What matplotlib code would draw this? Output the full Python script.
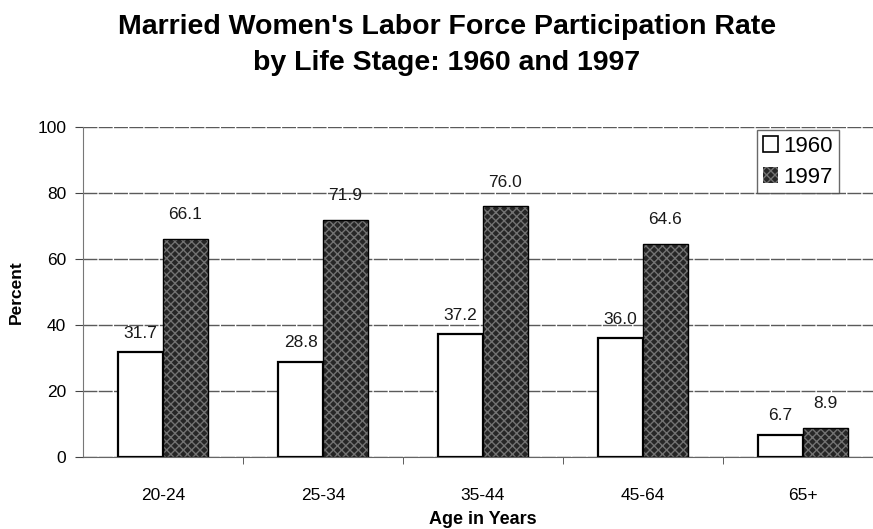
import numpy as np
import matplotlib.pyplot as plt
from matplotlib.patches import Patch

plt.rcParams['font.family'] = ['Liberation Sans', 'DejaVu Sans']

# data
groups = ["20-24", "25-34", "35-44", "45-64", "65+"]
rate_1960 = [31.7, 28.8, 37.2, 36.0, 6.7]
rate_1997 = [66.1, 71.9, 76.0, 64.6, 8.9]

fig = plt.figure(figsize=(8.73, 5.29), dpi=100)
ax = fig.add_axes([83 / 873, 72 / 529, 800 / 873, 330 / 529])

x = np.arange(len(groups))
w = 0.28

# 1960 bars: white
ax.bar(x - w / 2, rate_1960, w, color="white", edgecolor="black", linewidth=1.6, zorder=3)
# 1997 bars: dark with dotted texture
ax.bar(x + w / 2, rate_1997, w, color="#262626", edgecolor="#727272", hatch="xxxx",
       linewidth=0, zorder=3)
ax.bar(x + w / 2, rate_1997, w, fill=False, edgecolor="black", linewidth=1.0, zorder=4)

for xi, v in zip(x, rate_1960):
    ax.text(xi - w / 2, v + 3.5, f"{v:.1f}", ha="center", va="bottom", fontsize=12.5, color="#1a1a1a")
for xi, v in zip(x, rate_1997):
    ax.text(xi + w / 2, v + 5, f"{v:.1f}", ha="center", va="bottom", fontsize=12.5, color="#1a1a1a")

ax.set_xlim(-0.5, 4.5)
ax.set_ylim(0, 100)
ax.set_yticks([0, 20, 40, 60, 80, 100])
ax.set_xticks(x)
ax.set_xticklabels(groups, fontsize=12.5)
ax.set_xticks(np.arange(0.5, 4.5, 1), minor=True)
ax.tick_params(axis="x", which="major", length=0, pad=22)
ax.tick_params(axis="x", which="minor", length=5, color="#444444")
ax.tick_params(axis="y", length=6, color="#444444", labelsize=12.5, pad=6)

ax.grid(axis="y", color="#5a5a5a", linewidth=1.0, linestyle=(0, (10, 1)), zorder=0)
for s in ["top", "right"]:
    ax.spines[s].set_visible(False)
ax.spines["left"].set_color("#777777")
ax.spines["bottom"].set_color("#666666")

ax.set_ylabel("Percent", fontsize=12.5, fontweight="bold", labelpad=10)
ax.set_xlabel("Age in Years", fontsize=13, fontweight="bold", labelpad=6)

fig.text(447 / 873, 1 - 45 / 529,
         "Married Women's Labor Force Participation Rate\nby Life Stage: 1960 and 1997",
         ha="center", va="center", fontsize=20.5, fontweight="bold", linespacing=1.5)

handles = [Patch(facecolor="white", edgecolor="black", linewidth=1.2),
           Patch(facecolor="#262626", edgecolor="#727272", hatch="xxxx", linewidth=0)]
leg = fig.legend(handles, ["1960", "1997"], loc="upper left",
                 bbox_to_anchor=(757 / 873, 1 - 130 / 529), fontsize=16,
                 frameon=True, fancybox=False, handlelength=0.7, handleheight=0.7,
                 handletextpad=0.25, borderpad=0.25, labelspacing=0.45, borderaxespad=0)
leg.get_frame().set_edgecolor("#444444")
leg.get_frame().set_linewidth(1.0)

fig.savefig("out.png", dpi=100)
